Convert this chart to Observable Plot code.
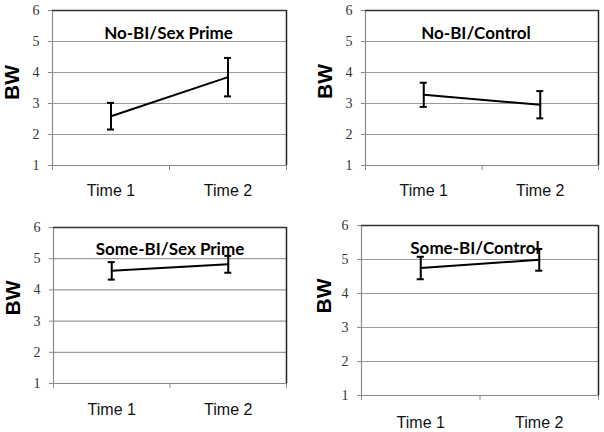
<!DOCTYPE html>
<html>
<head>
<meta charset="utf-8">
<script src="https://cdn.jsdelivr.net/npm/d3@7"></script>
<script src="https://cdn.jsdelivr.net/npm/@observablehq/plot@0.6"></script>
<style>
  html, body { margin: 0; padding: 0; background: white; }
  #wrap { position: relative; width: 604px; height: 432px; overflow: hidden; background: white; }
  .panel { position: absolute; }
</style>
</head>
<body>
<div id="wrap"></div>
<script>
// ---- data ----
const categories = ["Time 1", "Time 2"];
const yTicks = [1, 2, 3, 4, 5, 6];
const yLabel = "BW";
const panelTitles = ["No-BI/Sex Prime", "No-BI/Control", "Some-BI/Sex Prime", "Some-BI/Control"];
const meansNoBISex = [2.59, 3.85];
const errorsNoBISex = [0.43, 0.62];
const meansNoBIControl = [3.28, 2.96];
const errorsNoBIControl = [0.39, 0.44];
const meansSomeBISex = [4.61, 4.82];
const errorsSomeBISex = [0.28, 0.27];
const meansSomeBIControl = [4.75, 4.99];
const errorsSomeBIControl = [0.33, 0.32];

// ---- layout (styles only) ----
const layouts = [
  {left: 0,   top: 0,   width: 300, height: 205, mL: 52, mR: 14, mT: 10, mB: 40, bwDx: -40, bwDy: 12, tDx: -1, tDy: 16, xDy: 25},
  {left: 300, top: 0,   width: 304, height: 205, mL: 65, mR: 6,  mT: 10, mB: 40, bwDx: -40, bwDy: 11, tDx: -6, tDy: 16, xDy: 25},
  {left: 0,   top: 210, width: 300, height: 222, mL: 53, mR: 14, mT: 17, mB: 49, bwDx: -40, bwDy: 10, tDx: 0,  tDy: 15, xDy: 26},
  {left: 300, top: 210, width: 304, height: 222, mL: 61, mR: 6,  mT: 15, mB: 37, bwDx: -37, bwDy: 3,  tDx: -5, tDy: 16, xDy: 27}
];
const panelData = [
  [meansNoBISex, errorsNoBISex],
  [meansNoBIControl, errorsNoBIControl],
  [meansSomeBISex, errorsSomeBISex],
  [meansSomeBIControl, errorsSomeBIControl]
];

const wrap = document.getElementById("wrap");
const capHalf = 0.03;

panelData.forEach(([means, errs], p) => {
  const L = layouts[p];
  const rows = categories.map((c, i) => ({cat: c, x: i + 0.5, y: means[i], lo: means[i] - errs[i], hi: means[i] + errs[i]}));
  const chart = Plot.plot({
    width: L.width,
    height: L.height,
    marginLeft: L.mL,
    marginRight: L.mR,
    marginTop: L.mT,
    marginBottom: L.mB,
    style: {background: "white", fontFamily: "'Liberation Serif', serif", fontSize: "13px", overflow: "visible"},
    x: {type: "linear", domain: [0, categories.length], axis: null},
    y: {type: "linear", domain: [yTicks[0], yTicks[yTicks.length - 1]], axis: null},
    marks: [
      Plot.ruleY(yTicks.slice(1, -1), {stroke: "#9a9a9a", strokeWidth: 1.2}),
      Plot.ruleX([0], {stroke: "#8a8a8a", strokeWidth: 1.2}),
      Plot.ruleY([yTicks[0]], {stroke: "#8a8a8a", strokeWidth: 1.2}),
      Plot.ruleY([yTicks[yTicks.length - 1]], {stroke: "#333", strokeWidth: 1.3}),
      Plot.ruleX([categories.length], {stroke: "#222", strokeWidth: 1.5}),
      Plot.axisY({ticks: yTicks, tickSize: 4, tickFormat: () => "", stroke: "#8a8a8a", label: null}),
      Plot.text(yTicks, {x: 0, y: d => d, text: d => String(d), dx: -13, textAnchor: "end", fontSize: 14, fontFamily: "'Liberation Serif', 'Times New Roman', serif", fill: "#333"}),
      Plot.axisX({ticks: d3.range(categories.length + 1), tickSize: 5, tickFormat: () => "", stroke: "#8a8a8a", label: null}),
      Plot.text(rows, {x: "x", y: () => yTicks[0], text: "cat", dy: L.xDy, fontSize: 16, fontFamily: "'Liberation Sans', Arial, sans-serif", fill: "#111"}),
      Plot.text([yLabel], {frameAnchor: "left", text: d => d, rotate: -90, dx: L.bwDx, dy: L.bwDy, fontSize: 21, fontWeight: "bold", fontFamily: "'Liberation Sans', Arial, sans-serif", fill: "#000"}),
      Plot.text([panelTitles[p]], {frameAnchor: "top", text: d => d, dx: L.tDx, dy: L.tDy, fontSize: 17, fontWeight: "bold", fontFamily: "Lato, 'Open Sans', sans-serif", fill: "#000"}),
      Plot.line(rows, {x: "x", y: "y", stroke: "#000", strokeWidth: 2}),
      Plot.ruleX(rows, {x: "x", y1: "lo", y2: "hi", stroke: "#000", strokeWidth: 2}),
      Plot.ruleY(rows, {y: "hi", x1: d => d.x - capHalf, x2: d => d.x + capHalf, stroke: "#000", strokeWidth: 2}),
      Plot.ruleY(rows, {y: "lo", x1: d => d.x - capHalf, x2: d => d.x + capHalf, stroke: "#000", strokeWidth: 2})
    ]
  });
  const div = document.createElement("div");
  div.className = "panel";
  div.style.left = L.left + "px";
  div.style.top = L.top + "px";
  div.appendChild(chart);
  wrap.appendChild(div);
});
</script>
</body>
</html>
